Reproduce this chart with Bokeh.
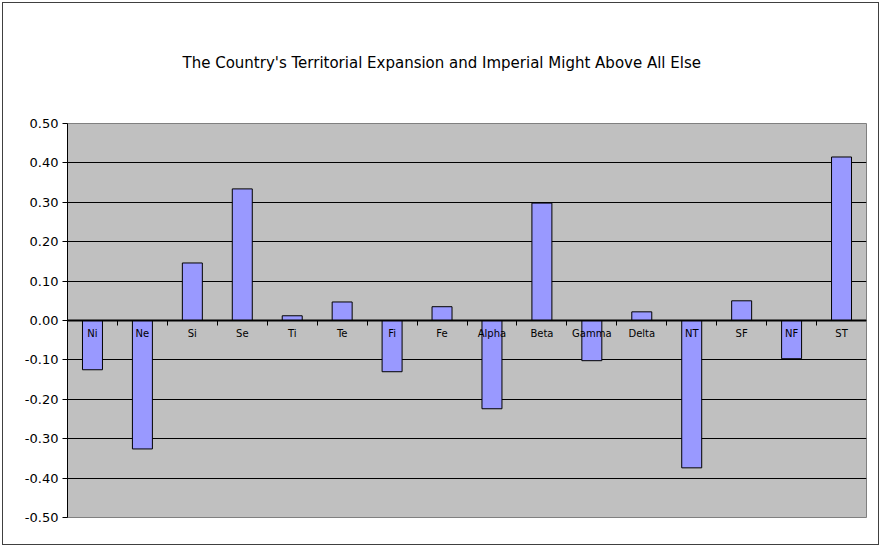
from bokeh.plotting import figure
from bokeh.models import FixedTicker, NumeralTickFormatter, Range1d, ColumnDataSource
from bokeh.embed import file_html
from bokeh.resources import INLINE

title_text = "The Country's Territorial Expansion and Imperial Might Above All Else"
categories = ["Ni", "Ne", "Si", "Se", "Ti", "Te", "Fi", "Fe", "Alpha", "Beta",
              "Gamma", "Delta", "NT", "SF", "NF", "ST"]
values = [-0.125, -0.326, 0.146, 0.334, 0.012, 0.047, -0.130, 0.035, -0.224, 0.298,
          -0.102, 0.022, -0.374, 0.050, -0.097, 0.415]
y_ticks = [-0.5, -0.4, -0.3, -0.2, -0.1, 0.0, 0.1, 0.2, 0.3, 0.4, 0.5]

n = len(categories)
xs = list(range(n))
src = ColumnDataSource(dict(x=xs, top=values))

p = figure(width=877, height=543, output_backend="svg", toolbar_location=None,
           x_range=Range1d(-0.5, n - 0.5), y_range=Range1d(y_ticks[0], y_ticks[-1]),
           min_border_left=64, min_border_right=14, min_border_top=120, min_border_bottom=29)
p.background_fill_color = "#C0C0C0"
p.border_fill_color = "white"
p.outline_line_color = "#808080"
p.outline_line_width = 1
p.styles = {"border": "1px solid #404040", "margin-left": "2px", "margin-top": "2px"}

p.title.text = title_text
p.title.align = "left"
p.title.offset = 115
p.title.text_font = "DejaVu Sans"
p.title.text_font_size = "15px"
p.title.text_font_style = "normal"
p.title.text_color = "black"
p.title.vertical_align = "top"
p.title.standoff = 100

p.vbar(x="x", top="top", bottom=0, width=0.4, source=src,
       fill_color="#9999FF", line_color="black", line_width=1)

# grid
p.xgrid.visible = False
p.ygrid.ticker = FixedTicker(ticks=y_ticks[1:-1])
p.ygrid.grid_line_color = "black"
p.ygrid.grid_line_width = 1

# y axis
ya = p.yaxis[0]
ya.ticker = FixedTicker(ticks=y_ticks)
ya.formatter = NumeralTickFormatter(format="0.00")
ya.major_label_text_font = "DejaVu Sans"
ya.major_label_text_font_size = "13px"
ya.major_label_text_color = "black"
ya.axis_line_color = "black"
ya.major_tick_line_color = "black"
ya.major_tick_out = 5
ya.major_tick_in = 0
ya.minor_tick_out = 0
ya.minor_tick_in = 0
ya.major_label_standoff = 4

# x axis at zero
xa = p.xaxis[0]
xa.fixed_location = 0
xa.ticker = FixedTicker(ticks=xs, minor_ticks=[i + 0.5 for i in xs[:-1]])
xa.major_label_overrides = {i: c for i, c in zip(xs, categories)}
xa.major_label_text_font = "DejaVu Sans"
xa.major_label_text_font_size = "10px"
xa.major_label_text_color = "black"
xa.major_tick_out = 0
xa.major_tick_in = 0
xa.minor_tick_out = 5
xa.minor_tick_in = 0
xa.minor_tick_line_color = "black"
xa.axis_line_color = "black"
xa.axis_line_width = 2
xa.major_label_standoff = 2

open("out.html", "w").write(file_html(p, INLINE))
